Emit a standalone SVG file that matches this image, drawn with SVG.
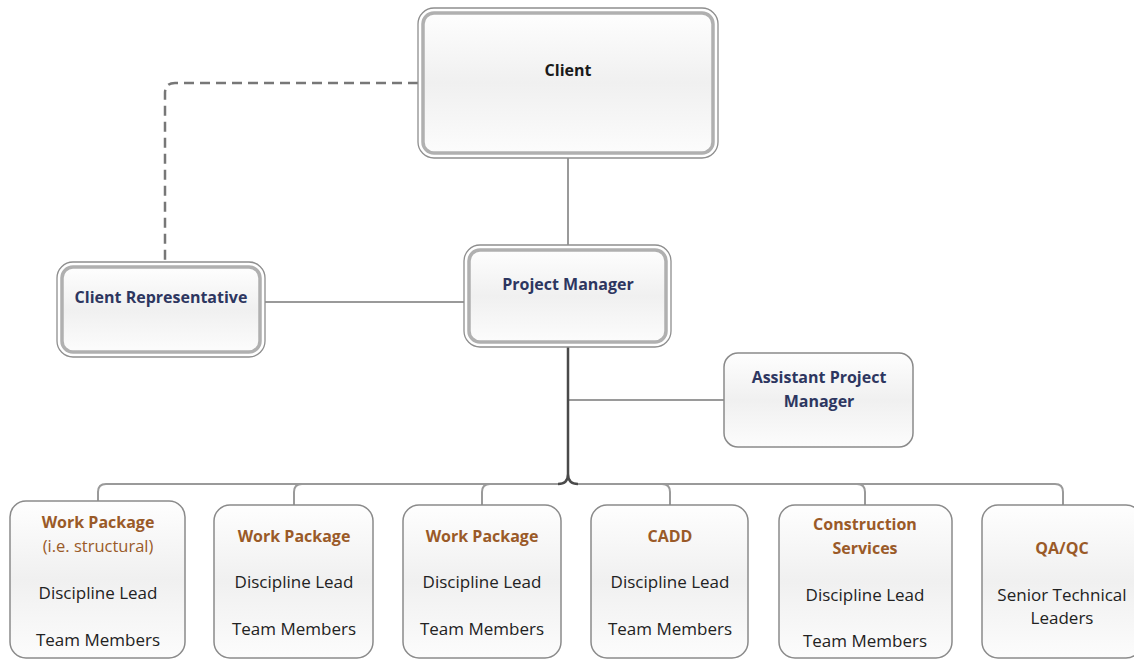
<svg xmlns="http://www.w3.org/2000/svg" width="1134" height="660" viewBox="0 0 1134 660">
  <defs>
    <linearGradient id="fillGrad" x1="0" y1="0" x2="0" y2="1">
      <stop offset="0" stop-color="#fefefe"/>
      <stop offset="0.5" stop-color="#f0f0f0"/>
      <stop offset="1" stop-color="#fcfcfc"/>
    </linearGradient>
    <style>
      .outer { fill: #ffffff; stroke: #8e8e8e; stroke-width: 1.3; }
      .inner { fill: url(#fillGrad); stroke: #b0b0b0; stroke-width: 3.5; }
      .box { fill: url(#fillGrad); stroke: #8a8a8a; stroke-width: 1.5; }
      .conn { fill: none; stroke: #9a9a9a; stroke-width: 2; }
      .trunk { fill: none; stroke: #4a4a4a; stroke-width: 2.5; }
      .dash { fill: none; stroke: #777777; stroke-width: 2.5; stroke-dasharray: 10 6; }
      text { font-family: "Open Sans", "Liberation Sans", sans-serif; text-anchor: middle; }
      .t-black { font-size: 16px; font-weight: bold; fill: #1a1a1a; }
      .t-navy { font-size: 16px; font-weight: bold; fill: #2d3660; }
      .t-brown { font-size: 16px; font-weight: bold; fill: #9a5a28; }
      .t-brown-n { font-size: 16.5px; fill: #9a5a28; }
      .t-body { font-size: 17px; fill: #222222; }
    </style>
  </defs>

  <!-- connectors -->
  <g id="connectors">
    <path class="dash" d="M418,83 H175 Q165,83 165,93 V262"/>
    <line class="conn" x1="568" y1="158" x2="568" y2="245"/>
    <line class="conn" x1="265" y1="302" x2="464" y2="302"/>
    <line class="conn" x1="568" y1="400" x2="724" y2="400"/>
    <path class="trunk" d="M568,347 V474 Q568,484 558,484 M568,474 Q568,484 578,484"/>
    <path class="conn" d="M558,484 H106 Q98,484 98,492 V501"/>
    <path class="conn" d="M578,484 H1055 Q1063,484 1063,492 V505"/>
    <path class="conn" d="M294,505 V492 Q294,484 302,484"/>
    <path class="conn" d="M482,505 V492 Q482,484 490,484"/>
    <path class="conn" d="M670,505 V492 Q670,484 662,484"/>
    <path class="conn" d="M865,505 V492 Q865,484 857,484"/>
  </g>

  <g id="client">
    <rect class="outer" x="418" y="8" width="300" height="150" rx="16"/>
    <rect class="inner" x="423" y="13" width="290" height="140" rx="11"/>
    <text class="t-black" x="568" y="76">Client</text>
  </g>

  <g id="client-rep">
    <rect class="outer" x="57" y="262" width="208" height="95" rx="16"/>
    <rect class="inner" x="62" y="267" width="198" height="85" rx="11"/>
    <text class="t-navy" x="161" y="303">Client Representative</text>
  </g>

  <g id="project-manager">
    <rect class="outer" x="464" y="245" width="207" height="102" rx="16"/>
    <rect class="inner" x="469" y="250" width="197" height="92" rx="11"/>
    <text class="t-navy" x="568" y="290">Project Manager</text>
  </g>

  <g id="assistant-pm">
    <rect class="box" x="724" y="353" width="189" height="94" rx="14"/>
    <text class="t-navy" x="819" y="383">Assistant Project</text>
    <text class="t-navy" x="819" y="407">Manager</text>
  </g>

  <g id="wp-structural">
    <rect class="box" x="10" y="501" width="175" height="157" rx="16"/>
    <text class="t-brown" x="98" y="528">Work Package</text>
    <text class="t-brown-n" x="98" y="552">(i.e. structural)</text>
    <text class="t-body" x="98" y="599">Discipline Lead</text>
    <text class="t-body" x="98" y="646">Team Members</text>
  </g>

  <g id="wp-2">
    <rect class="box" x="214" y="505" width="159" height="153" rx="16"/>
    <text class="t-brown" x="294" y="542">Work Package</text>
    <text class="t-body" x="294" y="588">Discipline Lead</text>
    <text class="t-body" x="294" y="635">Team Members</text>
  </g>

  <g id="wp-3">
    <rect class="box" x="403" y="505" width="158" height="153" rx="16"/>
    <text class="t-brown" x="482" y="542">Work Package</text>
    <text class="t-body" x="482" y="588">Discipline Lead</text>
    <text class="t-body" x="482" y="635">Team Members</text>
  </g>

  <g id="cadd">
    <rect class="box" x="591" y="505" width="157" height="153" rx="16"/>
    <text class="t-brown" x="670" y="542">CADD</text>
    <text class="t-body" x="670" y="588">Discipline Lead</text>
    <text class="t-body" x="670" y="635">Team Members</text>
  </g>

  <g id="construction">
    <rect class="box" x="779" y="505" width="173" height="153" rx="16"/>
    <text class="t-brown" x="865" y="530">Construction</text>
    <text class="t-brown" x="865" y="554">Services</text>
    <text class="t-body" x="865" y="601">Discipline Lead</text>
    <text class="t-body" x="865" y="647">Team Members</text>
  </g>

  <g id="qaqc">
    <rect class="box" x="982" y="505" width="160" height="153" rx="16"/>
    <text class="t-brown" x="1062" y="554">QA/QC</text>
    <text class="t-body" x="1062" y="601">Senior Technical</text>
    <text class="t-body" x="1062" y="624">Leaders</text>
  </g>
</svg>
